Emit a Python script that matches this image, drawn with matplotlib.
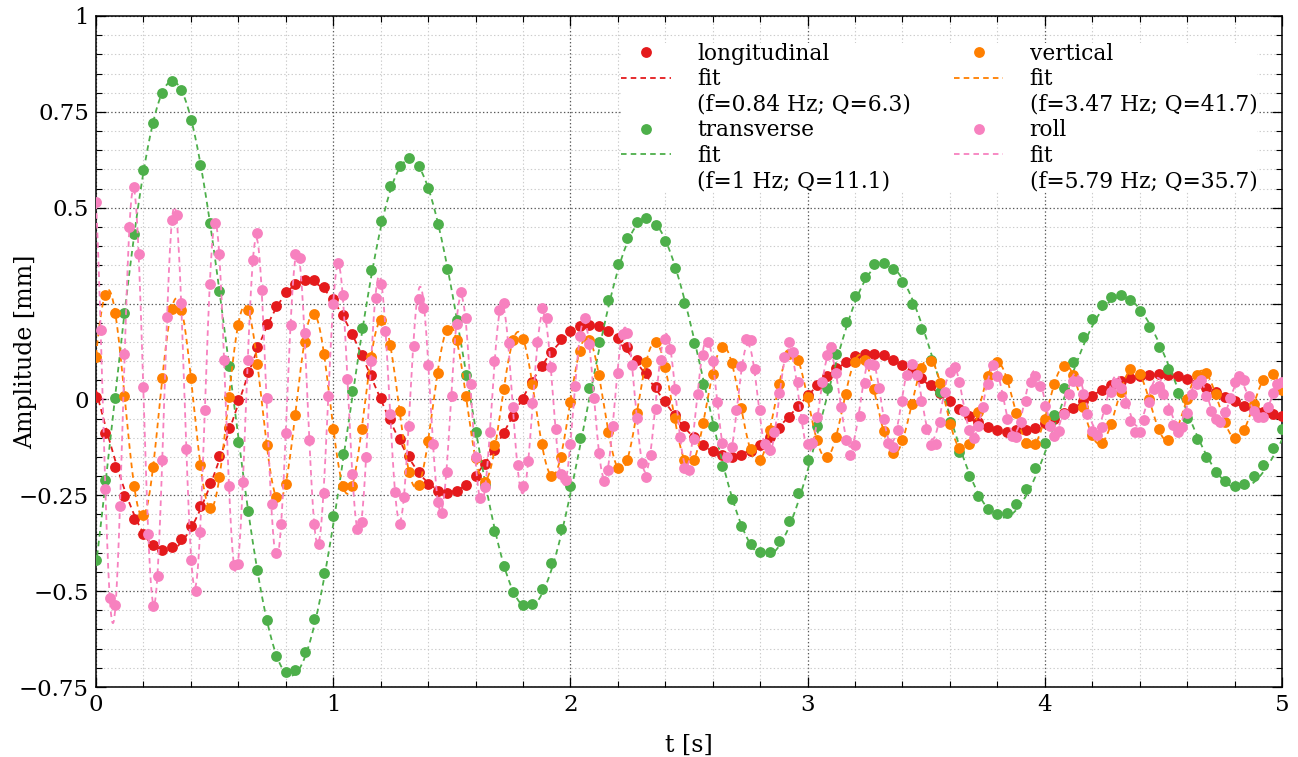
import numpy as np
import matplotlib
matplotlib.use('Agg')
import matplotlib.pyplot as plt
from matplotlib.lines import Line2D
from matplotlib.ticker import MultipleLocator

plt.rcParams['font.family'] = 'DejaVu Serif'
plt.rcParams['lines.scale_dashes'] = False

# sampling intervals [s]
dt_slow = 0.04
dt_roll = 0.02

# measured amplitudes [mm]
longitudinal = [
    0.006, -0.088, -0.177, -0.252, -0.312, -0.352, -0.379, -0.392, -0.384, -0.365,
    -0.329, -0.279, -0.218, -0.147, -0.074, -0.001, 0.071, 0.138, 0.198, 0.244,
    0.279, 0.30, 0.312, 0.312, 0.293, 0.261, 0.219, 0.171, 0.117, 0.063,
    0.004, -0.05, -0.103, -0.148, -0.19, -0.22, -0.238, -0.244, -0.238, -0.223,
    -0.201, -0.169, -0.131, -0.087, -0.044, 0.0, 0.045, 0.087, 0.125, 0.157,
    0.178, 0.191, 0.195, 0.191, 0.178, 0.161, 0.137, 0.104, 0.07, 0.032,
    -0.004, -0.04, -0.07, -0.098, -0.12, -0.135, -0.146, -0.149, -0.146, -0.135,
    -0.12, -0.098, -0.074, -0.046, -0.016, 0.012, 0.038, 0.061, 0.082, 0.098,
    0.112, 0.119, 0.119, 0.115, 0.104, 0.091, 0.074, 0.057, 0.037, 0.017,
    -0.004, -0.024, -0.044, -0.059, -0.072, -0.079, -0.084, -0.081, -0.081, -0.075,
    -0.062, -0.05, -0.035, -0.022, -0.005, 0.01, 0.025, 0.038, 0.048, 0.056,
    0.061, 0.065, 0.067, 0.065, 0.06, 0.052, 0.043, 0.031, 0.019, 0.006,
    -0.004, -0.016, -0.026, -0.033, -0.037, -0.042]

transverse = [
    -0.42, -0.21, 0.004, 0.226, 0.432, 0.598, 0.72, 0.798, 0.831, 0.807,
    0.73, 0.611, 0.459, 0.282, 0.086, -0.111, -0.29, -0.446, -0.575, -0.668,
    -0.71, -0.706, -0.658, -0.573, -0.453, -0.305, -0.143, 0.023, 0.186, 0.337,
    0.465, 0.557, 0.61, 0.63, 0.609, 0.552, 0.457, 0.339, 0.206, 0.063,
    -0.084, -0.223, -0.342, -0.435, -0.501, -0.535, -0.533, -0.495, -0.427, -0.339,
    -0.225, -0.1, 0.03, 0.151, 0.26, 0.354, 0.422, 0.464, 0.474, 0.456,
    0.413, 0.342, 0.251, 0.147, 0.039, -0.07, -0.173, -0.26, -0.329, -0.377,
    -0.399, -0.399, -0.369, -0.317, -0.245, -0.159, -0.068, 0.031, 0.119, 0.201,
    0.269, 0.319, 0.352, 0.357, 0.339, 0.305, 0.25, 0.183, 0.102, 0.02,
    -0.059, -0.137, -0.201, -0.253, -0.286, -0.299, -0.296, -0.272, -0.233, -0.178,
    -0.114, -0.04, 0.03, 0.097, 0.163, 0.211, 0.245, 0.267, 0.272, 0.26,
    0.23, 0.189, 0.137, 0.08, 0.017, -0.048, -0.103, -0.151, -0.19, -0.214,
    -0.225, -0.22, -0.201, -0.17, -0.126, -0.077]

vertical = [
    0.11, 0.273, 0.226, 0.008, -0.225, -0.301, -0.177, 0.057, 0.237, 0.234,
    0.057, -0.171, -0.283, -0.203, 0.006, 0.195, 0.232, 0.093, -0.12, -0.255,
    -0.22, -0.04, 0.151, 0.222, 0.119, -0.077, -0.225, -0.225, -0.077, 0.11,
    0.206, 0.143, -0.03, -0.19, -0.223, -0.109, 0.069, 0.182, 0.154, 0.008,
    -0.153, -0.216, -0.12, 0.028, 0.154, 0.158, 0.041, -0.117, -0.199, -0.149,
    -0.007, 0.126, 0.156, 0.064, -0.084, -0.179, -0.158, -0.036, 0.097, 0.15,
    0.084, -0.049, -0.158, -0.159, -0.062, 0.067, 0.137, 0.095, -0.022, -0.13,
    -0.158, -0.081, 0.039, 0.119, 0.104, 0.006, -0.107, -0.151, -0.098, 0.013,
    0.097, 0.104, 0.026, -0.083, -0.139, -0.107, -0.011, 0.082, 0.1, 0.043,
    -0.065, -0.126, -0.116, -0.033, 0.06, 0.097, 0.054, -0.036, -0.113, -0.117,
    -0.05, 0.039, 0.087, 0.065, -0.02, -0.094, -0.114, -0.064, 0.019, 0.08,
    0.067, 0.0, -0.077, -0.107, -0.075, 0.0, 0.064, 0.069, 0.015, -0.059,
    -0.101, -0.079, -0.013, 0.05, 0.067, 0.025]

roll = [
    0.515, 0.182, -0.233, -0.519, -0.536, -0.277, 0.119, 0.45, 0.554, 0.38,
    0.033, -0.351, -0.538, -0.46, -0.159, 0.215, 0.469, 0.48, 0.251, -0.129,
    -0.418, -0.50, -0.346, -0.027, 0.30, 0.461, 0.38, 0.102, -0.225, -0.433,
    -0.429, -0.216, 0.104, 0.363, 0.434, 0.286, 0.004, -0.272, -0.401, -0.326,
    -0.087, 0.193, 0.378, 0.369, 0.173, -0.105, -0.325, -0.377, -0.243, 0.01,
    0.25, 0.356, 0.272, 0.054, -0.194, -0.339, -0.32, -0.151, 0.1, 0.265,
    0.30, 0.178, -0.037, -0.242, -0.326, -0.255, -0.068, 0.139, 0.261, 0.238,
    0.089, -0.116, -0.268, -0.297, -0.19, 0.008, 0.196, 0.279, 0.212, 0.039,
    -0.15, -0.257, -0.229, -0.085, 0.099, 0.234, 0.251, 0.148, -0.02, -0.171,
    -0.227, -0.161, -0.01, 0.15, 0.238, 0.213, 0.085, -0.078, -0.194, -0.21,
    -0.117, 0.035, 0.166, 0.212, 0.145, 0.003, -0.14, -0.214, -0.184, -0.07,
    0.07, 0.17, 0.174, 0.089, -0.049, -0.165, -0.203, -0.144, -0.024, 0.102,
    0.158, 0.131, 0.028, -0.097, -0.179, -0.184, -0.103, 0.015, 0.115, 0.15,
    0.099, -0.007, -0.114, -0.15, -0.124, -0.027, 0.086, 0.158, 0.154, 0.08,
    -0.027, -0.115, -0.131, -0.085, 0.017, 0.11, 0.151, 0.124, 0.045, -0.052,
    -0.116, -0.114, -0.046, 0.045, 0.117, 0.137, 0.07, -0.02, -0.107, -0.146,
    -0.118, -0.042, 0.043, 0.093, 0.089, 0.03, -0.05, -0.114, -0.124, -0.079,
    -0.004, 0.065, 0.093, 0.065, -0.003, -0.077, -0.118, -0.116, -0.059, 0.02,
    0.071, 0.084, 0.045, -0.03, -0.081, -0.101, -0.07, -0.02, 0.04, 0.09,
    0.06, 0.01, -0.05, -0.095, -0.098, -0.06, -0.004, 0.045, 0.06, 0.034,
    -0.018, -0.07, -0.096, -0.083, -0.039, 0.013, 0.048, 0.048, 0.014, -0.037,
    -0.083, -0.094, -0.071, -0.025, 0.02, 0.042, 0.029, -0.01, -0.056, -0.086,
    -0.084, -0.053, -0.008, 0.027, 0.036, 0.014, -0.027, -0.066, -0.084, -0.071,
    -0.036, 0.014, 0.039, 0.05, 0.008, -0.031, -0.05, -0.06, -0.032, 0.004,
    0.045, 0.062, 0.05, 0.008, -0.03, -0.047, -0.047, -0.02, 0.016, 0.041, 0.046]

# damped-oscillator fits: f [Hz], Q, amplitude [mm], time of crest [s], offset [mm]
fit_longitudinal = (0.84, 6.3, 0.45, -0.2876, 0.0)
fit_transverse = (1.0, 11.1, 0.91, 0.329, 0.0)
fit_vertical = (3.47, 41.7, 0.305, 0.052, -0.015)
fit_roll = (5.79, 35.7, 0.6, 0.158, -0.005)


def damped(t, f, Q, A, t0, c):
    return A * np.exp(-np.pi * f * t / Q) * np.cos(2 * np.pi * f * (t - t0)) + c


series = [
    ('longitudinal', longitudinal, dt_slow, fit_longitudinal, '#e41a1c'),
    ('transverse', transverse, dt_slow, fit_transverse, '#4daf4a'),
    ('vertical', vertical, dt_slow, fit_vertical, '#ff7f00'),
    ('roll', roll, dt_roll, fit_roll, '#f781bf'),
]

fig = plt.figure(figsize=(12.98, 7.57), dpi=100)
ax = fig.add_axes([96 / 1298, 1 - 687 / 757, 1186 / 1298, 671 / 757])

t_fine = np.linspace(0, 5, 3000)
dash = (0, (4.0, 3.0))
handles, labels = [], []
for name, vals, dt, fit, col in series:
    t = np.arange(len(vals)) * dt
    ax.plot(t, vals, 'o', color=col, ms=7.8, mew=0, zorder=3)
    ax.plot(t_fine, damped(t_fine, *fit), color=col, lw=1.3, ls=dash, zorder=3)
    handles += [Line2D([], [], marker='o', ls='none', color=col, ms=7.8, mew=0),
                Line2D([], [], color=col, lw=1.3, ls=dash),
                Line2D([], [], ls='none')]
    labels += [name, 'fit', '(f=%g Hz; Q=%g)' % (fit[0], fit[1])]

ax.set_xlim(0, 5)
ax.set_ylim(-0.75, 1)
ax.xaxis.set_major_locator(MultipleLocator(1))
ax.xaxis.set_minor_locator(MultipleLocator(0.2))
yt = [-0.75, -0.5, -0.25, 0, 0.25, 0.5, 0.75, 1]
ax.set_yticks(yt, labels=['\u22120.75', '\u22120.5', '\u22120.25', '0', '', '0.5', '0.75', '1'])
ax.yaxis.set_minor_locator(MultipleLocator(0.05))

ax.tick_params(which='both', direction='in', top=True, right=True, labelsize=16.5)
ax.tick_params(which='major', length=7.5, width=0.9, pad=5)
ax.tick_params(which='minor', length=4, width=0.8)
for s in ax.spines.values():
    s.set_linewidth(1.1)

ax.grid(which='major', ls=':', color='0.35', lw=0.9)
ax.grid(which='minor', ls=':', color='0.8', lw=0.8)
ax.set_axisbelow(True)

ax.set_xlabel('t [s]', fontsize=17)
ax.set_ylabel('Amplitude [mm]', fontsize=17)
ax.xaxis.set_label_coords(0.5, -0.07)
ax.yaxis.set_label_coords(-0.05, 0.5)

leg = ax.legend(handles, labels, ncol=2, loc='upper left',
                bbox_to_anchor=(0.4427, 0.96), fontsize=15.7,
                frameon=True, framealpha=1, edgecolor='none', fancybox=False,
                borderpad=0.0, borderaxespad=0.0, labelspacing=0.16,
                handlelength=2.29, handletextpad=1.2, columnspacing=1.95)
leg.set_zorder(4)

fig.savefig('out.png', dpi=100)
